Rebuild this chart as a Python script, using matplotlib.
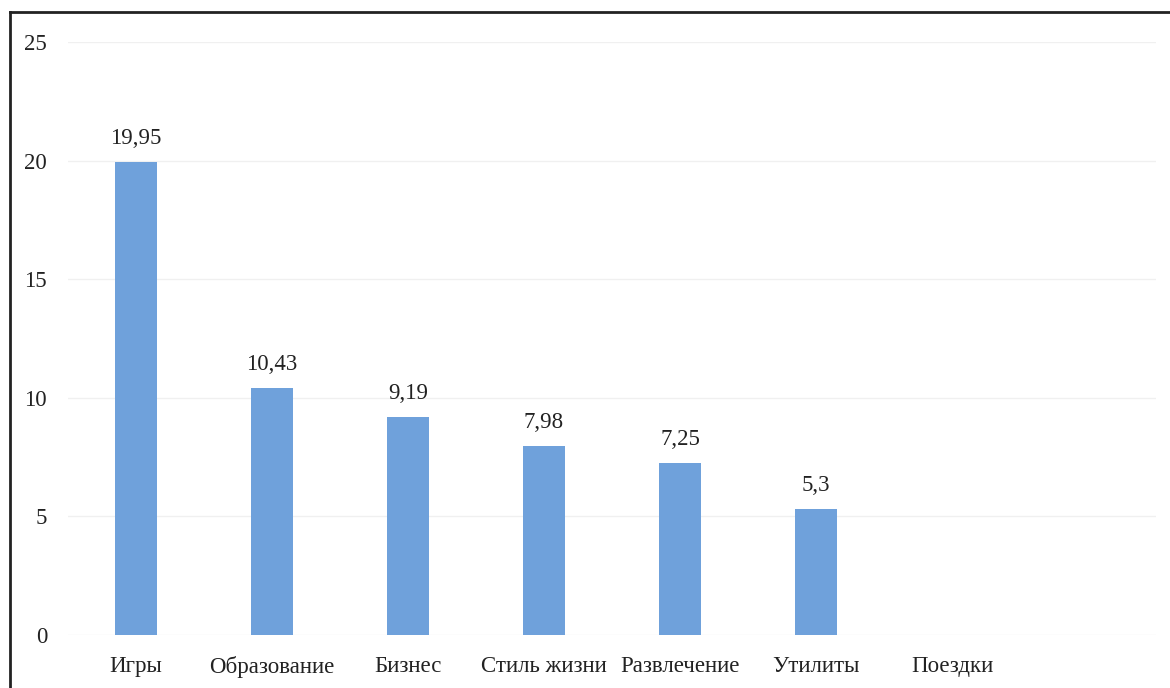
import matplotlib
matplotlib.use("Agg")
import matplotlib.pyplot as plt
from matplotlib.lines import Line2D

categories = ["Игры", "Образование", "Бизнес", "Стиль жизни", "Развлечение", "Утилиты", "Поездки"]
values = [19.95, 10.43, 9.19, 7.98, 7.25, 5.3, None]
labels = ["19,95", "10,43", "9,19", "7,98", "7,25", "5,3", ""]
yticks = [0, 5, 10, 15, 20, 25]

plt.rcParams['font.family'] = ['Liberation Serif', 'DejaVu Serif']
FS = 16.5

W, H = 1170, 688
fig = plt.figure(figsize=(W/100, H/100), dpi=100)
ax = fig.add_axes([68/W, 1 - 635/H, (1156-68)/W, (635-42)/H])

xs = list(range(len(categories)))
for x, v, lab in zip(xs, values, labels):
    if v is None:
        continue
    ax.bar(x, v, width=0.31, color="#6fa1db", zorder=3)
    ax.text(x, v + 0.55, lab, ha="center", va="bottom", fontsize=FS, color="#222222")

ax.set_xlim(-0.5, 7.5)
ax.set_ylim(0, 25)
ax.set_yticks(yticks)
ax.set_yticklabels([str(t) for t in yticks], fontsize=FS, color="#222222")
ax.set_xticks(xs)
ax.set_xticklabels(categories, fontsize=FS, color="#222222")
ax.tick_params(axis="both", length=0)
ax.tick_params(axis="y", pad=15)
ax.tick_params(axis="x", pad=15)
ax.grid(axis="y", color="#f0f0f0", linewidth=1, zorder=0)
for s in ax.spines.values():
    s.set_visible(False)

# frame (left and top edges)
fig.add_artist(Line2D([10/W, 10/W], [0, 1 - 12/H], transform=fig.transFigure, color="#222222", linewidth=2))
fig.add_artist(Line2D([10/W, 1], [1 - 12/H, 1 - 12/H], transform=fig.transFigure, color="#222222", linewidth=2))

fig.savefig("out.png", dpi=100)
